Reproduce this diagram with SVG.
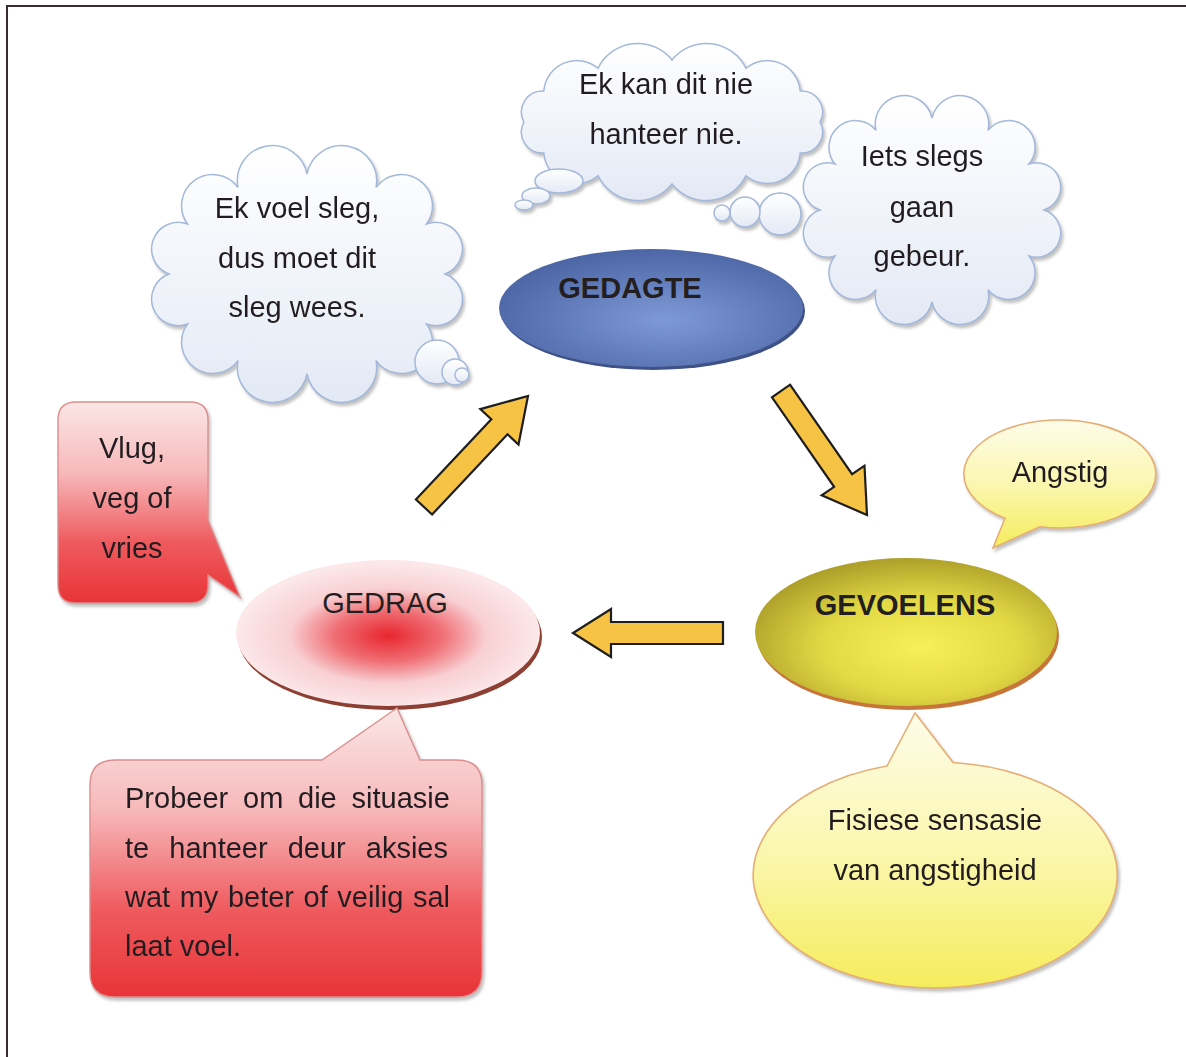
<svg xmlns="http://www.w3.org/2000/svg" width="1186" height="1057" viewBox="0 0 1186 1057">
<defs>
<style>
.t{font-family:"Liberation Sans",Arial,sans-serif;font-size:29px;fill:#231f20}
.b{font-weight:bold}
.cloud{fill:url(#gCloud);stroke:#a3b8da;stroke-width:1.5}
.arrow{fill:#f6c345;stroke:#1e1e1e;stroke-width:2.2;stroke-linejoin:miter}
.yel{fill:url(#gYel);stroke:#e6ae72;stroke-width:1.6}
.red{fill:url(#gRed);stroke:#dc8f8f;stroke-width:1.4}
</style>
<linearGradient id="gCloud" x1="0" y1="0" x2="0" y2="1">
<stop offset="0" stop-color="#ffffff"/><stop offset="1" stop-color="#e3e9f5"/>
</linearGradient>
<linearGradient id="gYel" x1="0" y1="0" x2="0" y2="1">
<stop offset="0" stop-color="#fdfce9"/><stop offset="0.5" stop-color="#fbf7b0"/><stop offset="1" stop-color="#f5ec5c"/>
</linearGradient>
<linearGradient id="gRed" x1="0" y1="0" x2="0" y2="1">
<stop offset="0" stop-color="#fbe6e6"/><stop offset="0.35" stop-color="#f7b9bb"/><stop offset="0.7" stop-color="#ef5a5e"/><stop offset="1" stop-color="#e83438"/>
</linearGradient>
<radialGradient id="gBlue" cx="0.55" cy="0.6" r="0.6">
<stop offset="0" stop-color="#7e9ad6"/><stop offset="1" stop-color="#4d66a6"/>
</radialGradient>
<radialGradient id="gOlive" cx="0.55" cy="0.6" r="0.6">
<stop offset="0" stop-color="#f8f058"/><stop offset="0.55" stop-color="#e2d844"/><stop offset="1" stop-color="#aea02a"/>
</radialGradient>
<radialGradient id="gPink" cx="0.5" cy="0.52" r="0.5">
<stop offset="0" stop-color="#e8262f"/><stop offset="0.35" stop-color="#ef6e74"/><stop offset="0.65" stop-color="#f8d0d3"/><stop offset="1" stop-color="#fce8ea"/>
</radialGradient>
<filter id="sh" x="-10%" y="-10%" width="125%" height="130%">
<feDropShadow dx="2" dy="3" stdDeviation="1.5" flood-color="#777" flood-opacity="0.45"/>
</filter>
</defs>

<rect x="0" y="0" width="1186" height="1057" fill="#ffffff"/>
<path d="M7,1057 V6 H1186" fill="none" stroke="#3b2c2c" stroke-width="2"/>

<g id="cloud-left" filter="url(#sh)">
<path class="cloud" d="M307,174 A1,1 0 0,1 376,187.4 A1,1 0 0,1 426.5,224 A1,1 0 0,1 445,274 A1,1 0 0,1 426.5,324 A1,1 0 0,1 376,360.6 A1,1 0 0,1 307,374 A1,1 0 0,1 238,360.6 A1,1 0 0,1 187.5,324 A1,1 0 0,1 169,274 A1,1 0 0,1 187.5,224 A1,1 0 0,1 238,187.4 A1,1 0 0,1 307,174 Z"/>
<circle class="cloud" cx="437" cy="362" r="22"/>
<circle class="cloud" cx="455" cy="372" r="13"/>
<circle class="cloud" cx="462" cy="375" r="7"/>
<text class="t" text-anchor="middle"><tspan x="297" y="218">Ek voel sleg,</tspan><tspan x="297" y="268">dus moet dit</tspan><tspan x="297" y="317">sleg wees.</tspan></text>
</g>

<g id="cloud-top" filter="url(#sh)">
<path class="cloud" d="M672,60 A44,44 0 0,1 746,68.3 A33,33 0 0,1 800.2,91 A21,21 0 0,1 820,122 A21,21 0 0,1 800.2,153 A33,33 0 0,1 746,175.7 A44,44 0 0,1 672,184 A44,44 0 0,1 598,175.7 A33,33 0 0,1 543.8,153 A21,21 0 0,1 524,122 A21,21 0 0,1 543.8,91 A33,33 0 0,1 598,68.3 A44,44 0 0,1 672,60 Z"/>
<ellipse class="cloud" cx="559" cy="181" rx="24" ry="12"/>
<ellipse class="cloud" cx="536" cy="196" rx="14" ry="8"/>
<ellipse class="cloud" cx="524" cy="205" rx="9" ry="5"/>
<text class="t" text-anchor="middle"><tspan x="666" y="94">Ek kan dit nie</tspan><tspan x="666" y="144">hanteer nie.</tspan></text>
</g>

<g id="node-gedagte">
<ellipse cx="653" cy="311" rx="152" ry="59" fill="#3f5288"/>
<ellipse cx="651" cy="308" rx="152" ry="59" fill="url(#gBlue)"/>
<text class="t b" x="630" y="298" text-anchor="middle" font-size="27.5">GEDAGTE</text>
</g>

<g id="cloud-right" filter="url(#sh)">
<path class="cloud" d="M932,118 A1,1 0 0,1 988,130.3 A1,1 0 0,1 1029,164 A1,1 0 0,1 1044,210 A1,1 0 0,1 1029,256 A1,1 0 0,1 988,289.7 A1,1 0 0,1 932,302 A1,1 0 0,1 876,289.7 A1,1 0 0,1 835,256 A1,1 0 0,1 820,210 A1,1 0 0,1 835,164 A1,1 0 0,1 876,130.3 A1,1 0 0,1 932,118 Z"/>
<circle class="cloud" cx="780" cy="214" r="21"/>
<circle class="cloud" cx="745" cy="212" r="15"/>
<circle class="cloud" cx="722" cy="213" r="8"/>
<text class="t" text-anchor="middle"><tspan x="922" y="166">Iets slegs</tspan><tspan x="922" y="217">gaan</tspan><tspan x="922" y="266">gebeur.</tspan></text>
</g>

<g id="callout-vlug" filter="url(#sh)">
<path class="red" d="M76,402 H190 Q208,402 208,420 V520 L240,597 L208,575 V585 Q208,603 190,603 H76 Q58,603 58,585 V420 Q58,402 76,402 Z"/>
<text class="t" text-anchor="middle"><tspan x="132" y="458">Vlug,</tspan><tspan x="132" y="508">veg of</tspan><tspan x="132" y="558">vries</tspan></text>
</g>

<g id="callout-angstig" filter="url(#sh)">
<path class="yel" d="M1040,526.8 L993,548 L1005,518.3 A96,54 0 1,1 1040,526.8 Z"/>
<text class="t" x="1060" y="482" text-anchor="middle">Angstig</text>
</g>

<g id="node-gevoelens">
<ellipse cx="908" cy="636" rx="151" ry="74" fill="#c8753a"/>
<ellipse cx="906" cy="632" rx="151" ry="74" fill="url(#gOlive)"/>
<text class="t b" x="905" y="615" text-anchor="middle">GEVOELENS</text>
</g>

<g id="node-gedrag">
<ellipse cx="390" cy="637" rx="152" ry="73" fill="#8c3f32"/>
<ellipse cx="388" cy="633" rx="152" ry="73" fill="url(#gPink)"/>
<text class="t" x="385" y="613" text-anchor="middle">GEDRAG</text>
</g>

<g id="callout-probeer" filter="url(#sh)">
<path class="red" d="M115,760 H322 L397,708 L420,760 H457 Q482,760 482,785 V972 Q482,997 457,997 H115 Q90,997 90,972 V785 Q90,760 115,760 Z"/>
<text class="t"><tspan x="125" y="808">Probeer</tspan><tspan x="243" y="808">om</tspan><tspan x="298" y="808">die</tspan><tspan x="351.6" y="808">situasie</tspan><tspan x="125" y="858">te</tspan><tspan x="169.3" y="858">hanteer</tspan><tspan x="287.7" y="858">deur</tspan><tspan x="365.8" y="858">aksies</tspan><tspan x="125" y="907" word-spacing="1.5">wat my beter of veilig sal</tspan><tspan x="125" y="956">laat voel.</tspan></text>
</g>

<g id="callout-fisiese" filter="url(#sh)">
<path class="yel" d="M887,766 L915,713 L953,762.5 A182,113 0 1,1 887,766 Z"/>
<text class="t" text-anchor="middle"><tspan x="935" y="830">Fisiese sensasie</tspan><tspan x="935" y="880">van angstigheid</tspan></text>
</g>

<g id="connectors">
<polygon class="arrow" points="415.9,499.5 491.3,419.3 480.3,409.1 528,396 518.5,444.5 507.5,434.3 432.1,514.5"/>
<polygon class="arrow" points="790,384.7 852.1,474.2 864.5,465.7 867,515 821.7,495.3 834.1,486.8 772,397.3"/>
<polygon class="arrow" points="723,622 611,622 611,609 573,633 611,657 611,644 723,644"/>
</g>
</svg>
